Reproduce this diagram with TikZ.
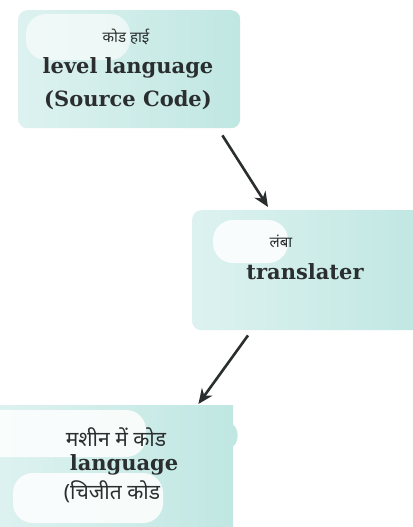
\documentclass[tikz,border=0pt]{standalone}
\usepackage{fontspec}
\usetikzlibrary{arrows.meta}
\newfontfamily\hindi[Script=Devanagari]{Noto Sans}
\newfontfamily\slab{DejaVu Serif}
\definecolor{tealA}{HTML}{DDF2F0}
\definecolor{tealB}{HTML}{C0E7E2}
\definecolor{ink}{HTML}{2A2E2E}
\tikzset{
  panel/.style={draw=none, rounded corners=9pt, inner sep=0pt, left color=tealA, right color=tealB},
  blob/.style={fill=white, draw=none, rounded corners=20pt, opacity=0.85},
  smallhi/.style={font=\hindi\fontsize{15}{18}\selectfont, text=ink},
  bighi/.style={font=\hindi\fontsize{21}{24}\selectfont, text=ink},
  heading/.style={font=\slab\bfseries\fontsize{21}{24}\selectfont, text=ink},
  arr/.style={draw=ink, line width=2.6pt, -{Stealth[length=15pt,width=13pt]}}
}
\begin{document}
\begin{tikzpicture}[x=1pt,y=-1pt]
\useasboundingbox (0,0) rectangle (412,527);
\fill[white] (0,0) rectangle (412,527);

% source panel
\node[panel, minimum width=222pt, minimum height=118pt, anchor=north west] (src) at (18,10) {};
\fill[blob, opacity=0.6] (26,14) rectangle (130,60);
\node[smallhi] (srcA) at (126,37) {कोड हाई};
\node[heading] (srcB) at (128,68) {level language};
\node[heading] (srcC) at (128,100) {(Source Code)};

% translator panel
\node[panel, minimum width=232pt, minimum height=120pt, anchor=north west] (mid) at (192,210) {};
\fill[blob] (213,220) rectangle (288,263);
\node[smallhi] (midA) at (281,241) {लंबा};
\node[heading] (midB) at (305,272) {translater};

% output panel
\node[panel, rounded corners=0pt, minimum width=233pt, minimum height=125pt, anchor=north west] (out) at (0,405) {};
\fill[tealB] (228,423) to[out=0,in=0,looseness=1.3] (228,448) -- cycle;
\fill[blob] (-20,410) rectangle (146,457);
\fill[blob] (13,473) rectangle (163,523);
\node[bighi] (outA) at (116,437) {मशीन में कोड};
\node[heading] (outB) at (124,465) {language};
\node[bighi] (outC) at (112,492) {(चिजीत कोड};

% connectors
\draw[arr] ([xshift=-18pt,yshift=-7pt]src.south east) -- ([xshift=76pt,yshift=3pt]mid.north west);
\draw[arr] ([xshift=56pt,yshift=-5pt]mid.south west) -- ([xshift=-35pt,yshift=1pt]out.north east);
\end{tikzpicture}
\end{document}
